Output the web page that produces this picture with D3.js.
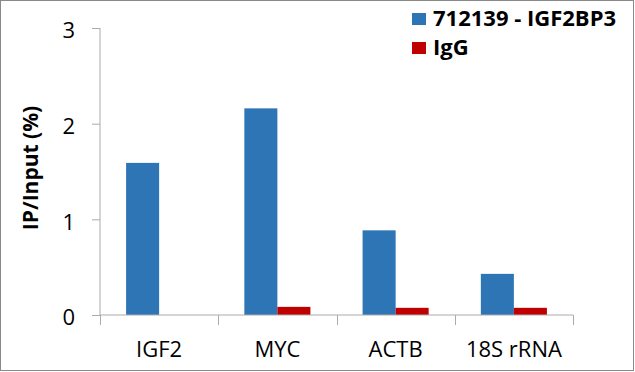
<!DOCTYPE html>
<html>
<head>
<meta charset="utf-8">
<script src="https://cdn.jsdelivr.net/npm/d3@7"></script>
<style>
    body { margin: 0; background: #fff; }
    text { font-family: "Open Sans", "Liberation Sans", sans-serif; fill: #000; }
</style>
</head>
<body>
<div id="chart"></div>
<script>
const categories=["IGF2", "MYC", "ACTB", "18S rRNA"];
const seriesNames=["712139 - IGF2BP3", "IgG"];
const ipValues=[1.59, 2.16, 0.885, 0.43];
const iggValues=[0, 0.085, 0.075, 0.075];
const yTicks=[0, 1, 2, 3];
const colors=["#2e75b6", "#c00000"];

const width=635;
const height=372;

const svg=d3.select("#chart")
    .append("svg")
    .attr("width", width)
    .attr("height", height);

// outer frame
svg.append("rect")
    .attr("x", 0.5).attr("y", 0.5)
    .attr("width", width-2).attr("height", height-2)
    .attr("fill", "#fff")
    .attr("stroke", "#8a8a8a");

const x0=d3.scaleBand()
    .domain(categories)
    .range([100, 573]);

const x1=d3.scaleBand()
    .domain(seriesNames)
    .range([0, x0.bandwidth()])
    .paddingOuter(0.79);

const y=d3.scaleLinear()
    .domain([0, 3])
    .range([315, 28]);

const rows=categories.map((c, i) => ({cat: c, vals: [ipValues[i], iggValues[i]]}));

const groups=svg.selectAll(".grp")
    .data(rows)
    .enter().append("g")
    .attr("class", "grp")
    .attr("transform", d => `translate(${x0(d.cat)},0)`);

groups.selectAll("rect")
    .data(d => d.vals.map((v, j) => ({s: seriesNames[j], v: v, j: j})))
    .enter().append("rect")
    .attr("x", d => x1(d.s))
    .attr("width", x1.bandwidth())
    .attr("y", d => y(d.v))
    .attr("height", d => y(0)-y(d.v))
    .attr("fill", d => colors[d.j]);

const axisGrey="#ababab";

// y axis
const yAxis=svg.append("g")
    .attr("transform", "translate(100,0)")
    .call(d3.axisLeft(y).tickValues(yTicks).tickFormat(d3.format("d")).tickSize(8).tickPadding(17));
yAxis.select(".domain").attr("stroke", axisGrey).attr("d", "M0,28V315");
yAxis.selectAll(".tick line").attr("stroke", axisGrey);
yAxis.selectAll(".tick text")
    .style("font-size", "22px")
    .attr("dy", "0.45em");

// x axis
const xAxis=svg.append("g")
    .attr("transform", "translate(0,315)")
    .call(d3.axisBottom(x0).tickSize(0).tickPadding(26));
xAxis.select(".domain").attr("stroke", axisGrey).attr("d", "M100,0H573");
xAxis.selectAll(".tick text").style("font-size", "22px");

const bounds=categories.map(c => x0(c)).concat([x0.range()[1]]);
svg.append("g")
    .selectAll("line")
    .data(bounds)
    .enter().append("line")
    .attr("x1", d => Math.round(d)+0.5)
    .attr("x2", d => Math.round(d)+0.5)
    .attr("y1", 315)
    .attr("y2", 325)
    .attr("stroke", axisGrey);

// y title
svg.append("text")
    .attr("transform", "translate(38,168) rotate(-90)")
    .attr("text-anchor", "middle")
    .style("font-size", "21px")
    .style("font-weight", "bold")
    .text("IP/Input (%)");

// legend
const legend=svg.append("g")
    .selectAll("g")
    .data(seriesNames)
    .enter().append("g")
    .attr("transform", (d, i) => `translate(412,${13+i*29})`);

legend.append("rect")
    .attr("width", 14)
    .attr("height", 12)
    .attr("fill", (d, i) => colors[i]);

legend.append("text")
    .attr("x", 21)
    .attr("y", 13)
    .style("font-size", "22px")
    .style("font-weight", "bold")
    .text(d => d);
</script>
</body>
</html>
